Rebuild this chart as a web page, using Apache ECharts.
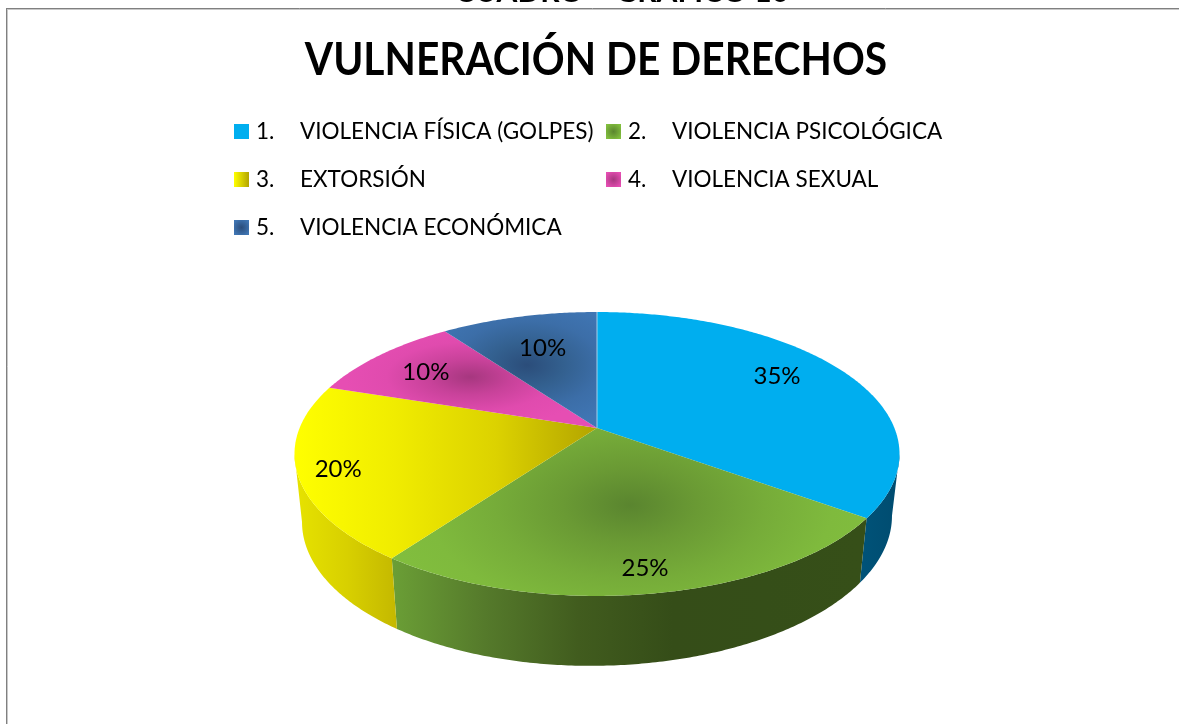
<!DOCTYPE html>
<html><head><meta charset="utf-8">
<style>html,body{margin:0;padding:0;background:#fff}#c{width:1179px;height:724px}</style>
<script src="https://cdn.jsdelivr.net/npm/echarts@6/dist/echarts.min.js"></script>
</head><body><div id="c"></div>
<script>
const numbers = ['1.', '2.', '3.', '4.', '5.'];
const categories = ['VIOLENCIA FÍSICA (GOLPES)', 'VIOLENCIA PSICOLÓGICA', 'EXTORSIÓN', 'VIOLENCIA SEXUAL', 'VIOLENCIA ECONÓMICA'];
const values = [35, 25, 20, 10, 10];
const titleText = 'VULNERACIÓN DE DERECHOS';
const clippedHeading = 'CUADRO – GRÁFICO 10';

const FONT = 'Lato';
// projection of the disc (perspective view)
const CX = 597, TOP = {R: 297.4, k: 137.2, y: 428, s: 0}, BOT = {R: 290, k: 142, y: 492, s: -3}, P = 0.183;
function project(theta, f, d) {
  const u = Math.sin(theta) * f, v = Math.cos(theta) * f, w = 1 + P * v;
  return [CX + d.R * u / w, d.y - d.k * v / w + d.s * u / w];
}
const total = values.reduce((a, b) => a + b, 0);
const starts = values.map((_, i) => values.slice(0, i).reduce((a, b) => a + b, 0) / total * 2 * Math.PI);
const ends = values.map((_, i) => values.slice(0, i + 1).reduce((a, b) => a + b, 0) / total * 2 * Math.PI);

function lin(x0, x1, stops, global) {
  return {type: 'linear', x: x0, y: 0, x2: x1, y2: 0, global: global !== false,
    colorStops: stops.map((c, i) => ({offset: i / (stops.length - 1), color: c}))};
}
function rad(x, y, r, stops, global) {
  return {type: 'radial', x, y, r, global: global !== false,
    colorStops: stops.map((c, i) => ({offset: i / (stops.length - 1), color: c}))};
}
const faces = [
  {fill: () => '#00aeef', squash: 1},
  {fill: () => rad(630, 505, 270, ['#5a852f', '#6a9a34', '#76ac39', '#7fba3d', '#82bf3e']), squash: 0.55, oy: 505},
  {fill: () => lin(294, 597, ['#ffff00', '#f0ec00', '#dcd200', '#b3a400']), squash: 1},
  {fill: () => rad(470, 377, 125, ['#a6377f', '#c8429a', '#e04bae', '#e64eb3']), squash: 0.42, oy: 377},
  {fill: () => rad(527, 365, 110, ['#2b4d7a', '#33608f', '#3c6ea8', '#4076b4']), squash: 0.6, oy: 365}
];
const walls = [
  lin(860, 897, ['#005379', '#004c70']),
  lin(391, 860, ['#6b9f36', '#557a2b', '#415c1e', '#354d18', '#354e18', '#364f18']),
  lin(297, 397, ['#e6e200', '#d8d000', '#c4b800'])
];
const labelRadius = [0.72, 0.87, 0.87, 0.77, 0.66];
const labelShift = [-9, 0, 2, 2, -2];
const legendColors = [
  '#00aeef',
  rad(0.5, 0.5, 0.6, ['#5a852f', '#82bf3e'], false),
  lin(0, 1, ['#ffff00', '#b3a400'], false),
  rad(0.5, 0.5, 0.6, ['#a6377f', '#e64eb3'], false),
  rad(0.5, 0.5, 0.6, ['#2b4d7a', '#4076b4'], false)
];

// the wall is visible between the two silhouette tangents of the projected disc
const WALL_FROM = Math.acos(-P), WALL_TO = 2 * Math.PI - WALL_FROM;

function arc(a, b, f, d) {
  const n = Math.max(2, Math.ceil((b - a) / 0.01)), pts = [];
  for (let j = 0; j <= n; j++) pts.push(project(a + (b - a) * j / n, f, d));
  return pts;
}
function renderSlice(i) {
  return function (params, api) {
    const a = starts[i], b = ends[i], children = [];
    const wa = Math.max(a, WALL_FROM), wb = Math.min(b, WALL_TO);
    if (wb > wa) {
      const pts = arc(wa, wb, 1, TOP).concat(arc(wa, wb, 1, BOT).reverse());
      children.push({type: 'polygon', z2: 1, shape: {points: pts}, style: {fill: walls[i]}});
    }
    const face = faces[i], sq = face.squash, oy = face.oy || 0;
    const top = [[CX, TOP.y]].concat(arc(a, b, 1, TOP)).map(p => [p[0], sq === 1 ? p[1] : oy + (p[1] - oy) / sq]);
    const poly = {type: 'polygon', z2: 2, shape: {points: top}, style: {fill: face.fill()}};
    if (sq !== 1) { poly.scaleY = sq; poly.originY = oy; poly.originX = CX; }
    children.push(poly);
    if (i === 0) {
      const e = project(a, 1, TOP);
      children.push({type: 'line', z2: 3, shape: {x1: CX, y1: TOP.y, x2: e[0], y2: e[1]},
        style: {stroke: '#a9cfe8', lineWidth: 1}});
    }
    const mid = (a + b) / 2, lp = project(mid, labelRadius[i], TOP);
    children.push({type: 'text', z2: 5, style: {
      text: Math.round(api.value(0) / total * 100) + '%', x: lp[0], y: lp[1] + labelShift[i],
      align: 'center', verticalAlign: 'middle', fill: '#000', font: '24px ' + FONT}});
    return {type: 'group', children};
  };
}
const series = categories.map((name, i) => ({
  type: 'custom', name, coordinateSystem: 'none', data: [[values[i]]],
  renderItem: renderSlice(i), itemStyle: {color: legendColors[i]}, silent: true,
  encode: {value: 0}, animation: false
}));
function legend(idx, left, top) {
  return {
    orient: 'vertical', left, top, itemGap: 48 - 25, itemWidth: 15, itemHeight: 15, icon: 'rect',
    selectedMode: false, padding: 0,
    data: idx.map(i => ({name: categories[i], itemStyle: {color: legendColors[i]}})),
    formatter: n => '{n|' + numbers[categories.indexOf(n)] + '}{t|' + n + '}',
    textStyle: {rich: {
      n: {width: 44, padding: [0, 0, 0, 2], fontFamily: FONT, fontSize: 22.5, color: '#000', lineHeight: 25, height: 25},
      t: {fontFamily: FONT, fontSize: 22.5, color: '#000', lineHeight: 25, height: 25}
    }}
  };
}
const chart = echarts.init(document.getElementById('c'), null, {renderer: 'canvas'});
chart.setOption({
  animation: false, backgroundColor: '#fff',
  legend: [legend([0, 2, 4], 234, 119), legend([1, 3], 606, 119)],
  graphic: [
    {type: 'text', silent: true, x: 596, y: 60, scaleX: 0.885, style: {text: titleText, align: 'center', verticalAlign: 'middle', fill: '#000', font: 'bold 46px ' + FONT}},
    {type: 'text', silent: true, x: 622, y: -8, style: {text: clippedHeading, align: 'center', verticalAlign: 'middle', fill: '#000', font: 'bold 30px ' + FONT}},
    {type: 'line', silent: true, shape: {x1: 6, y1: 8.5, x2: 1179, y2: 8.5}, style: {stroke: '#808080', lineWidth: 1}},
    {type: 'line', silent: true, shape: {x1: 7, y1: 9.5, x2: 1179, y2: 9.5}, style: {stroke: '#c8c8c8', lineWidth: 1}},
    {type: 'line', silent: true, shape: {x1: 6.5, y1: 8, x2: 6.5, y2: 724}, style: {stroke: '#808080', lineWidth: 1}},
    {type: 'line', silent: true, shape: {x1: 7.5, y1: 9, x2: 7.5, y2: 724}, style: {stroke: '#c8c8c8', lineWidth: 1}}
  ],
  series
});
</script></body></html>
